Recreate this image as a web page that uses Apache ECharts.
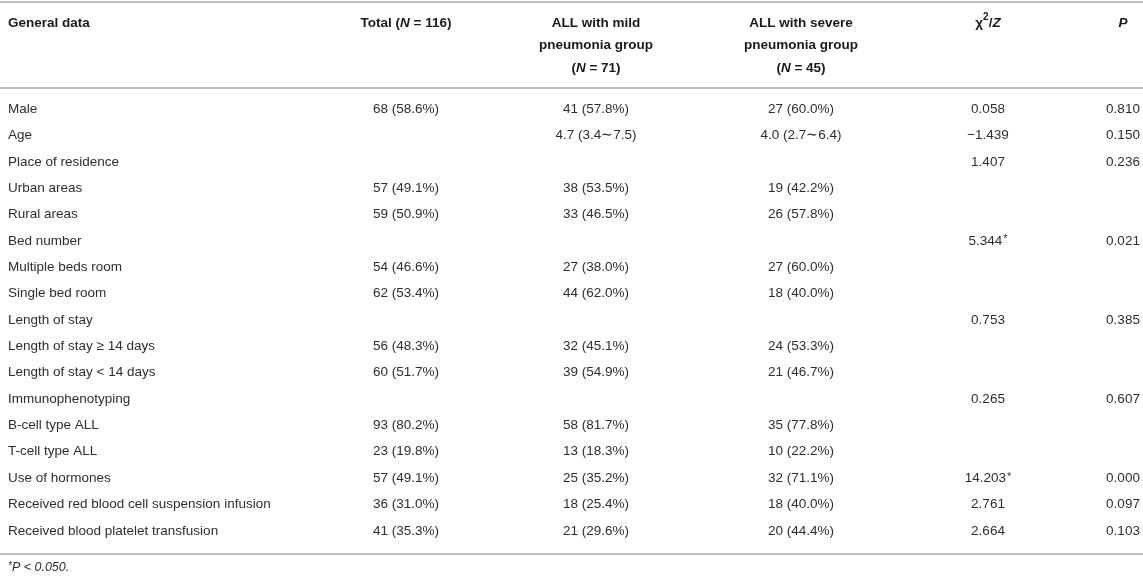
<!DOCTYPE html>
<html>
<head>
<meta charset="utf-8">
<title>General data of ALL children with pneumonia</title>
<script src="https://cdn.jsdelivr.net/npm/echarts@6/dist/echarts.min.js"></script>
<style>
  html, body { margin: 0; padding: 0; background: #fff; }
  #chart { width: 1143px; height: 577px; }
</style>
</head>
<body>
<div id="chart"></div>
<script>
// table data
const headers = [
  'General data',
  'Total ({i|N} = 116)',
  'ALL with mild\npneumonia group\n({i|N} = 71)',
  'ALL with severe\npneumonia group\n({i|N} = 45)',
  'χ{sup|2}/{i|Z}',
  '{i|P}'
];
const rows = [
  'Male', 'Age', 'Place of residence', 'Urban areas', 'Rural areas',
  'Bed number', 'Multiple beds room', 'Single bed room', 'Length of stay',
  'Length of stay ≥ 14 days', 'Length of stay < 14 days', 'Immunophenotyping',
  'B-cell type ALL', 'T-cell type ALL', 'Use of hormones',
  'Received red blood cell suspension infusion', 'Received blood platelet transfusion'
];
const total = ['68 (58.6%)', '', '', '57 (49.1%)', '59 (50.9%)', '', '54 (46.6%)', '62 (53.4%)', '',
  '56 (48.3%)', '60 (51.7%)', '', '93 (80.2%)', '23 (19.8%)', '57 (49.1%)', '36 (31.0%)', '41 (35.3%)'];
const mild = ['41 (57.8%)', '4.7 (3.4∼7.5)', '', '38 (53.5%)', '33 (46.5%)', '', '27 (38.0%)', '44 (62.0%)', '',
  '32 (45.1%)', '39 (54.9%)', '', '58 (81.7%)', '13 (18.3%)', '25 (35.2%)', '18 (25.4%)', '21 (29.6%)'];
const severe = ['27 (60.0%)', '4.0 (2.7∼6.4)', '', '19 (42.2%)', '26 (57.8%)', '', '27 (60.0%)', '18 (40.0%)', '',
  '24 (53.3%)', '21 (46.7%)', '', '35 (77.8%)', '10 (22.2%)', '32 (71.1%)', '18 (40.0%)', '20 (44.4%)'];
const stat = ['0.058', '−1.439', '1.407', '', '', '5.344{s|*}', '', '', '0.753', '', '', '0.265', '', '',
  '14.203{s|*}', '2.761', '2.664'];
const pval = ['0.810', '0.150', '0.236', '', '', '0.021', '', '', '0.385', '', '', '0.607', '', '',
  '0.000', '0.097', '0.103'];
const footnote = '{s|*}P < 0.050.';

// layout (pixels)
const W = 1143;
const colX = [8, 406, 596, 801, 988, 1123];
const colAlign = ['left', 'center', 'center', 'center', 'center', 'center'];
const FONT = '"Liberation Sans", Arial, Helvetica, sans-serif';
const bodyColor = '#2e2e2e';
const headColor = '#1a1a1a';
const ruleColor = '#bdbdbd';

const columns = [rows, total, mild, severe, stat, pval];
const cells = [];
columns.forEach((col, c) => {
  col.forEach((txt, r) => {
    if (txt) cells.push({ value: [c, r], text: txt });
  });
});

const bodyRich = {
  s: { fontSize: 11, fontFamily: FONT, color: bodyColor, verticalAlign: 'top', padding: [0, 0, 0, 1] }
};
const headRich = {
  i: { fontStyle: 'italic', fontWeight: 'bold', fontSize: 13.5, fontFamily: FONT, color: headColor },
  sup: { fontWeight: 'bold', fontSize: 10, fontFamily: FONT, color: headColor, verticalAlign: 'top' }
};

const graphic = [];
[2, 88, 554].forEach(y => {
  graphic.push({
    type: 'line', silent: true,
    shape: { x1: 0, y1: y, x2: W, y2: y },
    style: { stroke: ruleColor, lineWidth: 2 }
  });
});
headers.forEach((h, c) => {
  graphic.push({
    type: 'text', silent: true,
    x: colX[c], y: 12,
    style: {
      text: h,
      align: colAlign[c], textAlign: colAlign[c],
      verticalAlign: 'top', textVerticalAlign: 'top',
      font: 'bold 13.5px ' + FONT,
      lineHeight: 22.5,
      fill: headColor,
      rich: headRich
    }
  });
});
graphic.push({
  type: 'text', silent: true,
  x: 8, y: 568,
  style: {
    text: footnote,
    align: 'left', verticalAlign: 'middle',
    font: 'italic 12.5px ' + FONT,
    fill: bodyColor,
    rich: { s: { fontSize: 10, fontStyle: 'italic', fontFamily: FONT, color: bodyColor, verticalAlign: 'top' } }
  }
});

const myChart = echarts.init(document.getElementById('chart'));
const option = {
  animation: false,
  backgroundColor: '#fff',
  grid: { left: 0, right: 0, top: 96, bottom: 33 },
  xAxis: { type: 'value', min: 0, max: W, show: false },
  yAxis: { type: 'category', data: rows, inverse: true, show: false },
  graphic: graphic,
  series: [{
    type: 'custom',
    silent: true,
    data: cells,
    renderItem: function (params, api) {
      const c = api.value(0);
      const r = api.value(1);
      const pt = api.coord([colX[c], r]);
      return {
        type: 'text',
        style: {
          text: cells[params.dataIndex].text,
          x: pt[0], y: pt[1],
          align: colAlign[c], textAlign: colAlign[c],
          verticalAlign: 'middle', textVerticalAlign: 'middle',
          font: '13.5px ' + FONT,
          fill: bodyColor,
          rich: bodyRich
        }
      };
    }
  }]
};
myChart.setOption(option);
window.addEventListener('resize', () => myChart.resize());
</script>
</body>
</html>
